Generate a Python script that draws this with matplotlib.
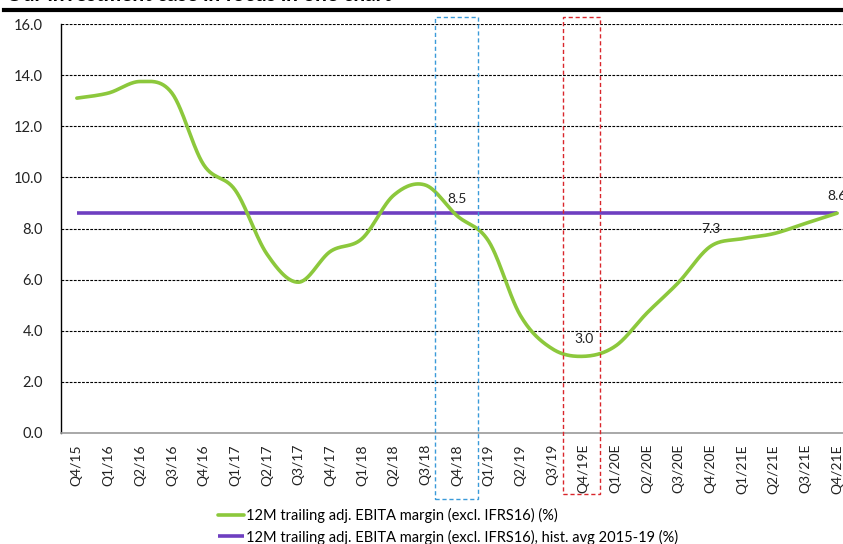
import numpy as np
import matplotlib
matplotlib.use("Agg")
import matplotlib.pyplot as plt
from matplotlib.lines import Line2D
from matplotlib.patches import Rectangle
from matplotlib.transforms import blended_transform_factory

plt.rcParams['font.family'] = ['Lato', 'DejaVu Sans']

quarters = ["Q4/15", "Q1/16", "Q2/16", "Q3/16", "Q4/16", "Q1/17", "Q2/17", "Q3/17",
            "Q4/17", "Q1/18", "Q2/18", "Q3/18", "Q4/18", "Q1/19", "Q2/19", "Q3/19",
            "Q4/19E", "Q1/20E", "Q2/20E", "Q3/20E", "Q4/20E", "Q1/21E", "Q2/21E",
            "Q3/21E", "Q4/21E"]
margin = [13.1, 13.3, 13.75, 13.3, 10.5, 9.5, 7.0, 5.9, 7.1, 7.6, 9.3, 9.7,
          8.5, 7.5, 4.6, 3.3, 3.0, 3.4, 4.7, 5.9, 7.3, 7.6, 7.8, 8.2, 8.6]
hist_avg = 8.6
labelled = {"Q4/18": 8.5, "Q4/19E": 3.0, "Q4/20E": 7.3, "Q4/21E": 8.6}

series_label = "12M trailing adj. EBITA margin (excl. IFRS16) (%)"
avg_label = "12M trailing adj. EBITA margin (excl. IFRS16), hist. avg 2015-19 (%)"
title = "Our investment case in focus in one chart"

GREEN = "#8CC83C"
PURPLE = "#6E3FC0"
BLUE = "#3A9AD9"
RED = "#D9262C"


def smooth_curve(y, n=30):
    """Bezier smoothing through every point (spreadsheet-style smoothed line)."""
    y = np.asarray(y, float)
    x = np.arange(len(y), dtype=float)
    pts = np.column_stack([x, y])
    out = []
    for i in range(len(pts) - 1):
        p0 = pts[i - 1] if i > 0 else pts[i]
        p1 = pts[i]
        p2 = pts[i + 1]
        p3 = pts[i + 2] if i + 2 < len(pts) else pts[i + 1]
        c1 = p1 + (p2 - p0) / 6.0
        c2 = p2 - (p3 - p1) / 6.0
        t = np.linspace(0, 1, n, endpoint=(i == len(pts) - 2))[:, None]
        seg = ((1 - t) ** 3) * p1 + 3 * ((1 - t) ** 2) * t * c1 + 3 * (1 - t) * t ** 2 * c2 + t ** 3 * p2
        out.append(seg)
    out = np.vstack(out)
    return out[:, 0], out[:, 1]


W, H = 843, 544
fig = plt.figure(figsize=(W / 100, H / 100), dpi=100)
ax = fig.add_axes([61 / W, (H - 433) / H, (853 - 61) / W, 409 / H])

x = np.arange(len(quarters))
sx, sy = smooth_curve(margin)
ax.plot(sx, sy, color=GREEN, lw=2.6, solid_capstyle='round', zorder=4,
        label=series_label)
ax.plot([x[0], x[-1]], [hist_avg, hist_avg], color=PURPLE, lw=2.6,
        solid_capstyle='butt', zorder=3, label=avg_label)

for q, v in labelled.items():
    i = quarters.index(q)
    ax.annotate(f"{v:.1f}", (i, v), xytext=(0, 8), textcoords='offset points',
                ha='center', va='bottom', fontsize=10, color='#222222', zorder=5)

ax.set_xlim(-0.5, len(quarters) - 0.5)
ax.set_ylim(0, 16)
ax.set_yticks(np.arange(0, 16.1, 2))
ax.set_yticklabels([f"{v:.1f}" for v in np.arange(0, 16.1, 2)], fontsize=10.5,
                   color='#222222')
ax.set_xticks(x)
ax.set_xticklabels(quarters, rotation=90, fontsize=10, color='#222222')
ax.tick_params(length=0, pad=8)
ax.tick_params(axis='y', pad=13)

for v in np.arange(2, 16.1, 2):
    ax.axhline(v, color='black', lw=0.8, ls=(0, (2.5, 1.2)), zorder=1)

for side in ['top', 'right']:
    ax.spines[side].set_visible(False)
ax.spines['left'].set_color('black')
ax.spines['left'].set_linewidth(1.0)
ax.spines['bottom'].set_color('#999999')
ax.spines['bottom'].set_linewidth(1.2)

# highlight boxes around the key quarters
bt = blended_transform_factory(ax.transData, fig.transFigure)
for q, left, right, bottom, col in [("Q4/18", -0.68, 0.65, 499, BLUE),
                                    ("Q4/19E", -0.65, 0.52, 494, RED)]:
    i = quarters.index(q)
    rect = Rectangle((i + left, (H - bottom) / H), right - left, (bottom - 17) / H,
                     transform=bt, fill=False, edgecolor=col, lw=1.0,
                     ls=(0, (3, 2)), clip_on=False, zorder=6)
    fig.add_artist(rect)

leg = fig.legend(loc='upper left', bbox_to_anchor=(212 / W, 1 - 502 / H),
                 frameon=False, fontsize=10.5, handlelength=1.8,
                 handletextpad=0.1, labelspacing=0.45, borderaxespad=0)

# title strip
fig.text(6 / W, 1 - 1 / H, title, fontsize=15, fontweight='bold', va='baseline',
         ha='left', color='black')
fig.add_artist(Line2D([4 / W, 1], [1 - 9.5 / H, 1 - 9.5 / H], color='black', lw=3,
                      transform=fig.transFigure))

fig.savefig("out.png", dpi=100)
